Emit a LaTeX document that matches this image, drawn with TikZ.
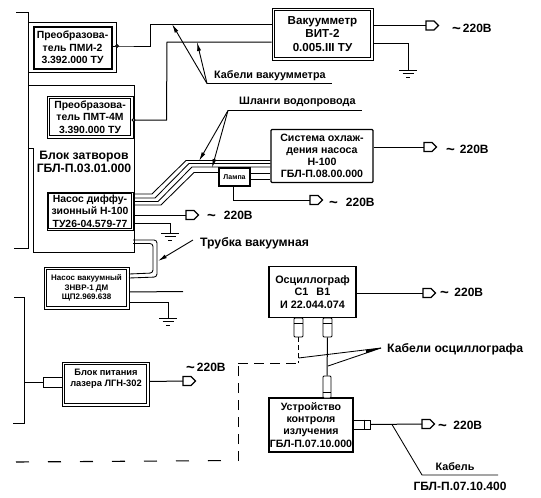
\documentclass[tikz,border=0pt]{standalone}
\usepackage{fontspec}
\setmainfont{Liberation Sans}
\usetikzlibrary{calc,arrows.meta}
\tikzset{
 wire/.style={line width=1pt},
 fineline/.style={line width=0.85pt},
 boxa/.style={draw=black,line width=1.1pt,fill=white,align=center,inner sep=0pt},
 dbl/.style={boxa,line width=1pt},
 conbox/.style={draw=black,line width=0.9pt,fill=white,inner sep=0pt,rounded corners=1pt},
 arr/.style={line width=0.9pt,-{Latex[length=9pt,width=4pt]}},
 lbl/.style={inner sep=0pt,anchor=west},
 lblfont/.style={font=\bfseries\fontsize{10.8}{13}\selectfont},
 lblbig/.style={font=\bfseries\fontsize{12.2}{14}\selectfont},
}
\newcommand{\plug}[2]{% name, at
 \coordinate (#1) at #2;
 \draw[line width=1.1pt,fill=white] (#1) -- ++(0,-4.5) -- ++(8,0) -- ++(4.5,4.5) -- ++(-4.5,4.5) -- ++(-8,0) -- cycle;}
\newcommand{\gnd}[1]{%
 \draw[line width=1pt] ($(#1)+(-9,0)$) -- ($(#1)+(9,0)$) ($(#1)+(-5.5,3.5)$) -- ($(#1)+(5.5,3.5)$) ($(#1)+(-2,7)$) -- ($(#1)+(2,7)$);}
\newcommand{\innerframe}[1]{%
 \draw[line width=0.9pt] ($(#1.south west)+(3,-3)$) rectangle ($(#1.north east)+(-3,3)$);}
\newcommand{\vlt}[3]{\node[lbl,font=\bfseries\fontsize{12}{14}\selectfont] (#1) at #2 {\raisebox{-1pt}{\fontsize{15}{15}\selectfont\textasciitilde}\hspace{#3pt}220В};}
\begin{document}
\begin{tikzpicture}[x=1pt,y=-1pt]
\useasboundingbox (0,0) rectangle (541,498);
\fill[white] (0,0) rectangle (541,498);
% left frames
\draw[fineline] (16,12) -- (28,12) -- (28,248) -- (14,248);
\draw[fineline] (28,22.5) -- (116,22.5) -- (116,72.5) -- (28,72.5);
\draw[fineline] (28,85) -- (134,85) -- (134,252.5) -- (33.5,252.5) -- (33.5,148) -- (28,148);
\draw[fineline] (14,297) -- (24.5,297) -- (24.5,423) -- (13,423);
% nodes
\node[boxa,minimum width=79pt,minimum height=43pt,line width=.9pt,font=\bfseries\fontsize{10.4}{12.6}\selectfont] (pmi) at (72.5,47.5) {Преобразова-\\тель ПМИ-2\\3.392.000 ТУ};
\draw[line width=.9pt] ($(pmi.south west)+(1.5,-1.5)$) rectangle ($(pmi.north east)+(-1.5,1.5)$);
\node[dbl,minimum width=86pt,minimum height=42pt,font=\bfseries\fontsize{10.4}{12.6}\selectfont] (pmt) at (90,117) {Преобразова-\\тель ПМТ-4М\\3.390.000 ТУ};
\innerframe{pmt}
\node[font=\bfseries\fontsize{12.2}{13}\selectfont,align=center,inner sep=0pt] (blk) at (84,161.5) {Блок затворов\\ГБЛ-П.03.01.000};
\node[dbl,minimum width=86pt,minimum height=38pt,font=\bfseries\fontsize{10.4}{12.4}\selectfont] (dif) at (90,211) {Насос диффу-\\зионный Н-100\\ТУ26-04.579-77};
\draw[line width=.9pt] ($(dif.south west)+(2,-2)$) rectangle ($(dif.north east)+(-2,2)$);
\node[dbl,minimum width=85pt,minimum height=42pt,font=\bfseries\fontsize{8}{9.4}\selectfont] (vac) at (86.5,288) {Насос вакуумный\\ЗНВР-1 ДМ\\ЩП2.969.638};
\innerframe{vac}
\node[dbl,minimum width=87pt,minimum height=44pt] (las) at (105.5,384) {};
\innerframe{las}
\node[font=\bfseries\fontsize{9.3}{11}\selectfont,align=center,inner sep=0pt] (last) at (106,378.5) {Блок питания\\лазера ЛГН-302};
\node[conbox,rounded corners=0pt,minimum width=19pt,minimum height=10pt] (lascon) at (52.5,382) {};
\draw[wire] (24.5,382) -- (lascon);
\node[dbl,minimum width=101pt,minimum height=52pt,font=\bfseries\fontsize{11.6}{13.2}\selectfont] (vit) at (322.5,34) {Вакуумметр\\ВИТ-2\\0.005.III ТУ};
\innerframe{vit}
\node[boxa,rounded corners=1pt,minimum width=102pt,minimum height=53pt,font=\bfseries\fontsize{10.6}{12.2}\selectfont] (sys) at (322,156) {Система охлаж-\\дения насоса\\Н-100\\ГБЛ-П.08.00.000};
\node[boxa,minimum width=31pt,minimum height=18pt,font=\bfseries\fontsize{7}{8}\selectfont] (lamp) at (234.5,177) {Лампа};
\node[boxa,minimum width=87pt,minimum height=51pt,font=\bfseries\fontsize{10.8}{12.6}\selectfont] (osc) at (312.5,292) {Осциллограф\\С1\hspace{8pt}В1\\И 22.044.074};
\node[boxa,minimum width=84pt,minimum height=54pt,font=\bfseries\fontsize{10.6}{12.2}\selectfont] (ust) at (311,425) {Устройство\\контроля\\излучения\\ГБЛ-П.07.10.000};
% connector boxes
\node[conbox,minimum width=9pt,minimum height=19pt] (c1) at (298.5,327.5) {};
\node[conbox,minimum width=9pt,minimum height=19pt] (c2) at (327.5,327.5) {};
\node[conbox,minimum width=8pt,minimum height=22pt] (c3) at (327,387) {};
\node[conbox,rounded corners=0pt,minimum width=17pt,minimum height=9pt] (c4) at (361.5,424.5) {};
\draw[fineline] (c1.west) ++(0,-4) -- ++(9,0) (c2.west) ++(0,-4) -- ++(9,0) (c3.west) ++(0,5) -- ++(8,0) (c4.north) ++(3,0) -- ++(0,9);
% plugs
\plug{p1}{(426,25.5)}
\plug{p2}{(424,147)}
\plug{p3}{(310,200)}
\plug{p4}{(186,215)}
\plug{p5}{(183,381)}
\plug{p6}{(423,293)}
\plug{p7}{(422,424)}
% wires
\draw[wire] (pmi.east) ++(0,-1.5) -- ++(5,0) coordinate (a1) -- (a1 -| 150,0) -- (150,24) -- (vit.west |- 0,24);
\draw[wire,fill=white] (117,46) circle (1.4pt);
\draw[wire] (pmt.east) ++(0,3) -- ++(33,0) -- (167,42) -- (vit.west |- 0,42);
\draw[wire,fill=white] (133.5,120) circle (1.5pt);
\draw[wire] (vit.east |- p1) -- (p1);
\coordinate (g1) at (408,70);
\draw[wire] (vit.east |- 0,43) -- (408,43) -- (g1);
\gnd{g1}
\draw[wire] (sys.east |- p2) -- (p2);
\draw[wire] (233,186) -- (233,200) -- (p3);
\draw[wire] (dif.east |- p4) -- (p4);
\coordinate (g2) at (170,233);
\draw[wire] (133,223) -- (170,223) -- (g2);
\gnd{g2}
\coordinate (g3) at (168,318);
\draw[wire] (vac.east |- 0,302) -- (168,302) -- (g3);
\gnd{g3}
\draw[wire] (vac.east |- 0,292) -- (183,291.5);
\draw[wire] (lascon.east -| las.east) ++(0,-.5) -- (p5);
\draw[wire] (osc.east |- p6) -- (p6);
\draw[wire] (c4.east) -- (p7);
\draw[wire] (c2.south) -- (c3.north);
% hoses
\draw[fineline] (133,194) -- (152,194) -- (186,160.5) -- (sys.west |- 0,160.5);
\draw[fineline] (133,198) -- (155,198) -- (189,163.5) -- (sys.west |- 0,163.5);
\draw[fineline] (133,201.5) -- (158,201.5) -- (192,167) -- (sys.west |- 0,167);
\draw[fineline] (133,205) -- (161,205) -- (194,172.5) -- (lamp.west |- 0,172.5);
\draw[fineline] (lamp.east |- 0,173) -- (sys.west |- 0,173);
\draw[fineline] (lamp.east |- 0,179) -- (sys.west |- 0,179);
% vacuum tube
\draw[fineline,rounded corners=3pt] (133,240) -- (157,240) -- (157,277) -- (129,278);
\draw[fineline,rounded corners=3pt] (133,243.5) -- (153,243.5) -- (153,273) -- (129,274);
% annotations
\coordinate (kvj) at (207,83.5);
\draw[fineline] (kvj) -- (332,83.5);
\draw[arr] (kvj) -- (172,24);
\draw[arr] (kvj) -- (197,42);
\node[lbl,lblfont] (kv) at (214,75.5) {Кабели вакуумметра};
\coordinate (shj) at (228,110.5);
\draw[fineline] (shj) -- (362,110.5);
\draw[arr] (shj) -- (199,161);
\draw[arr] (shj) -- (212,168);
\node[lbl,lblfont] (shl) at (239,102) {Шланги водопровода};
\node[lbl,lblbig] (tr) at (200,243) {Трубка вакуумная};
\draw[arr] (193,240) -- (158,261);
% dashed
\draw[line width=1.1pt,dash pattern=on 13pt off 19pt] (16,462) -- (237,460.5);
\draw[line width=1pt,dash pattern=on 10pt off 7pt] (238,461) -- (238,363);
\draw[line width=1pt,dash pattern=on 10pt off 6pt] (238,363) -- (c1.south |- 0,363);
\draw[line width=.9pt,dash pattern=on 5pt off 3pt] (c1.south) -- (c1.south |- 0,363);
% osc cable
\coordinate (koj) at (381,348);
\draw[fineline] (koj) -- (298.5,358);
\draw[fineline] (koj) -- (328,366);
\fill (koj) -- (366,349.8) -- (366,353) -- cycle;
\node[lbl,lblbig] (ko) at (387,349) {Кабели осциллографа};
% cable bottom
\draw[fineline] (392,424.5) -- (422,475) -- (498,475);
\node[lblfont] (kab) at (455,467) {Кабель};
\node[font=\bfseries\fontsize{12}{14}\selectfont] (kabn) at (460,486) {ГБЛ-П.07.10.400};
% 220V
\vlt{v1}{(452,29)}{2}
\vlt{v2}{(446,150)}{5}
\vlt{v3}{(329,203)}{8}
\vlt{v4}{(207,215.5)}{8}
\vlt{v5}{(186,368)}{2}
\vlt{v6}{(440,293)}{5.5}
\vlt{v7}{(438,426)}{6.5}
\end{tikzpicture}
\end{document}
